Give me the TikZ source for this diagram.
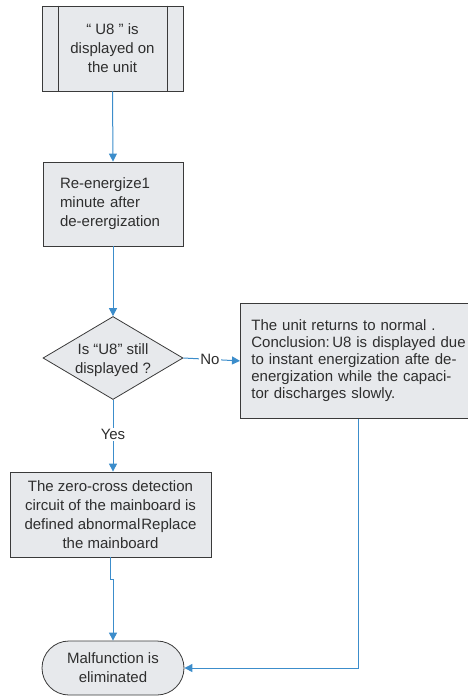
\documentclass[tikz,border=0pt]{standalone}
\usepackage{fontspec}
\setmainfont{Liberation Sans}
\usetikzlibrary{shapes.geometric,shapes.misc,arrows.meta,calc}
\definecolor{boxfill}{HTML}{E7E9EC}
\definecolor{boxline}{HTML}{3A3A3A}
\definecolor{arrblue}{HTML}{3C8DCB}
\definecolor{txt}{HTML}{2E2E2E}
\begin{document}
\begin{tikzpicture}[x=1pt,y=1pt,
  every node/.style={font=\fontsize{15}{19}\selectfont, text=txt},
  box/.style={draw=boxline, line width=0.8pt, fill=boxfill, inner sep=0pt},
  arr/.style={draw=arrblue, line width=1pt, -{Triangle[length=8pt,width=8pt]}},
  lbl/.style={fill=white, inner sep=1pt}]
\useasboundingbox (0,0) rectangle (467,-696);
% nodes
\node[box, minimum width=141, minimum height=85, align=center] (b1) at (112.5,-48.5)
  {“ U8 ” is\\displayed on\\the unit};
\draw[boxline, line width=0.8pt] ($(b1.north west)+(17,0)$) -- ($(b1.south west)+(17,0)$)
  ($(b1.north east)+(-16,0)$) -- ($(b1.south east)+(-16,0)$);
\node[box, minimum width=140, minimum height=84, text width=106, align=left] (b2) at (113,-204)
  {\mbox{Re-energize1}\\\mbox{minute after}\\\mbox{de-erergization}};
\node[box, diamond, aspect=1.69, minimum width=140, minimum height=83, align=center] (d) at (113,-358)
  {};
\node[align=center] at ($(d.center)+(0,-2)$) {Is “U8” still\\displayed ?};
\node[box, anchor=north west, minimum width=235, minimum height=115, text width=215, align=left,
  font=\fontsize{15}{17}\selectfont, inner xsep=11pt] (r) at (240,-303)
  {The unit returns to normal .\\Conclusion:\,U8 is displayed due\\to instant energization afte de-\\energization while the capaci-\\tor discharges slowly.};
\node[box, minimum width=201, minimum height=85, align=center] (b4) at (110.5,-514.5)
  {The zero-cross detection\\circuit of the mainboard is\\defined abnormal\hspace{1pt}Replace\\the mainboard};
\node[box, rounded rectangle, minimum width=142, minimum height=54, align=center] (t) at (113,-668)
  {Malfunction is\\eliminated};
% connectors
\draw[arr] (b1.south) -- (b2.north);
\draw[arr] (b2.south) -- (d.north);
\draw[arr] (d.east) -- node[lbl, pos=0.47] {No} (r.west);
\draw[arr] (d.south) -- node[lbl, pos=0.48] {Yes} (d.south |- b4.north);
\draw[arr] (b4.south) -- ++(0,-22) -| (t.north);
\draw[arr] (r.south) |- (t.east);
\end{tikzpicture}
\end{document}
